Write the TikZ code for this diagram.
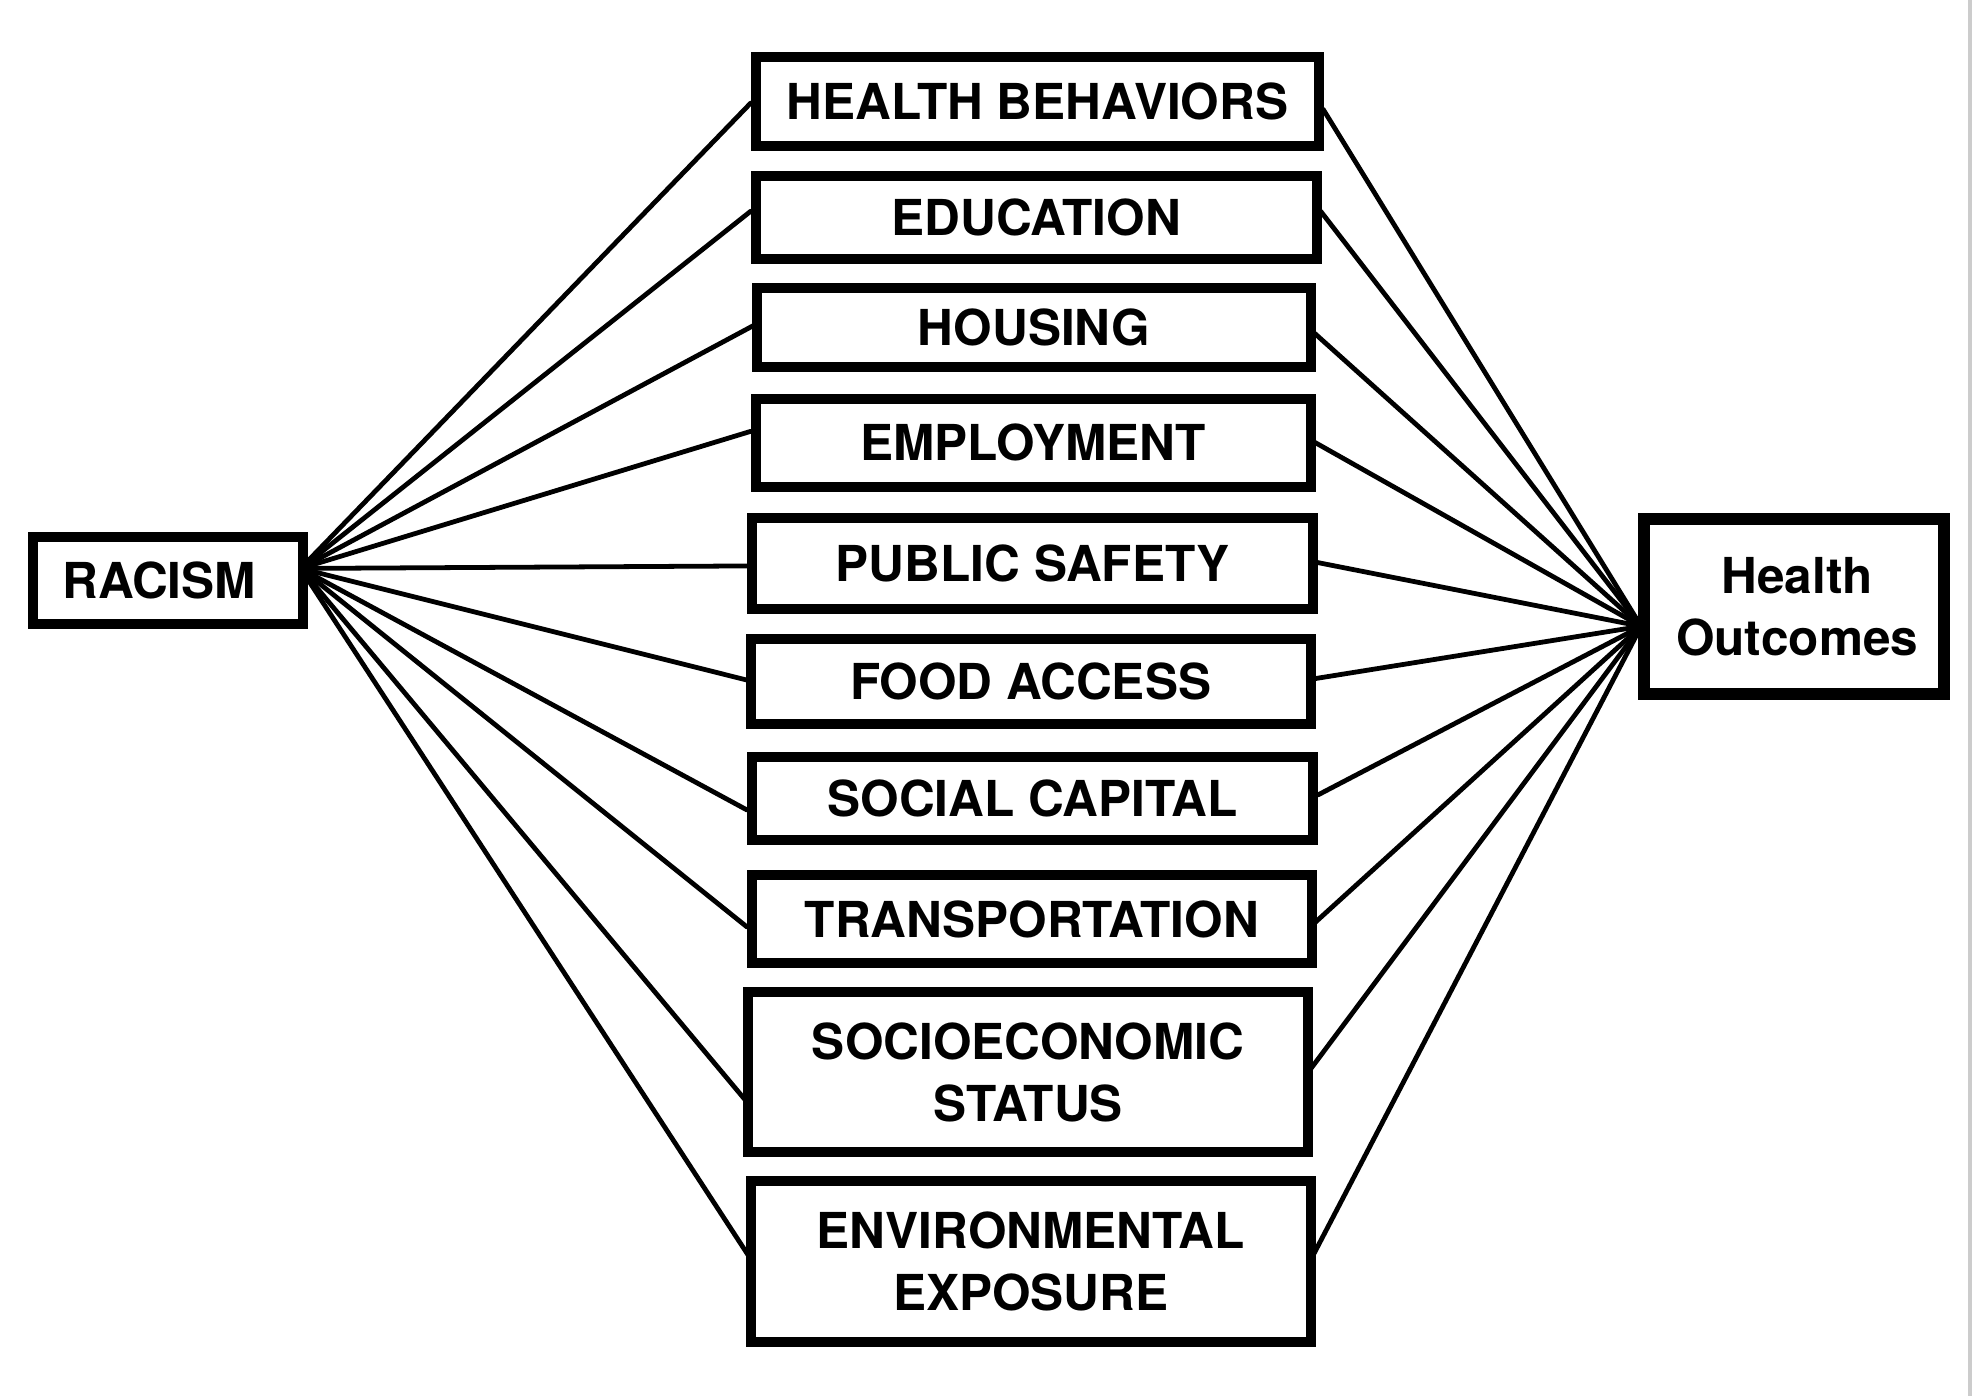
\documentclass[tikz,border=0pt]{standalone}
\usepackage{fontspec}
\setmainfont{TeX Gyre Heros}
\begin{document}
\begin{tikzpicture}[x=0.01cm,y=-0.01cm,
  factor/.style={draw=black,line width=0.08cm,inner sep=0pt,outer sep=0pt,
     align=center,font=\fontsize{11.2}{14}\selectfont\bfseries},
  endbox/.style={factor},
  link/.style={line width=0.038cm,line cap=round}]
\useasboundingbox[fill=white] (0,0) rectangle (1568,1110);
\fill[gray!40] (1564.8,0) rectangle (1568,1110);
% end boxes
\node[endbox,minimum width=2.15cm,minimum height=0.69cm] (rac) at (133.5,461.5) {RACISM\hspace*{0.14cm}};
\node[endbox,line width=0.095cm,minimum width=2.39cm,minimum height=1.39cm] (ho) at (1426.5,482.5) {\hspace*{0.05cm}Health\\\hspace*{0.05cm}Outcomes};
% middle factors
\node[factor,minimum width=4.48cm,minimum height=0.71cm] (hb)  at (825,80.5)   {HEALTH BEHAVIORS};
\node[factor,minimum width=4.46cm,minimum height=0.66cm] (edu) at (824,173)    {\raisebox{-0.03cm}{EDUCATION}};
\node[factor,minimum width=4.40cm,minimum height=0.63cm] (hou) at (822,260.5)  {\raisebox{-0.03cm}{HOUSING}};
\node[factor,minimum width=4.41cm,minimum height=0.70cm] (emp) at (821.5,352)  {EMPLOYMENT};
\node[factor,minimum width=4.46cm,minimum height=0.72cm] (ps)  at (821,448)    {PUBLIC SAFETY};
\node[factor,minimum width=4.45cm,minimum height=0.68cm] (fa)  at (819.5,542)  {FOOD ACCESS};
\node[factor,minimum width=4.46cm,minimum height=0.66cm] (sc)  at (821,635)    {SOCIAL CAPITAL};
\node[factor,minimum width=4.45cm,minimum height=0.70cm] (tr)  at (820.5,731)  {TRANSPORTATION};
\node[factor,minimum width=4.45cm,minimum height=1.27cm] (ses) at (817.5,852.5){SOCIOECONOMIC\\STATUS};
\node[factor,minimum width=4.45cm,minimum height=1.28cm] (env) at (819.5,1003) {ENVIRONMENTAL\\EXPOSURE};
% hubs
\coordinate (rhub) at ([shift={(-2,-9.5)}]rac.east);
\coordinate (hhub) at ([shift={(-2,15.5)}]ho.west);
% connectors from RACISM
\foreach \n/\dx/\dy in {hb/-4/1.5, edu/-4/-5, hou/-3/-1.5, emp/-4/-9, ps/-1/2,
                        fa/-2/-1, sc/-4/9, tr/-4/6, ses/-2/22.5, env/-2/-5}
  \draw[link] (rhub) -- ([shift={(\dx,\dy)}]\n.west);
% connectors to Health Outcomes
\foreach \n/\dx/\dy in {hb/3/6.5, edu/3/-5, hou/2/3.5, emp/2/-1, ps/2/-1,
                        fa/1/-2, sc/4/-3, tr/2/3, ses/2/-2.5, env/1/-3}
  \draw[link] ([shift={(\dx,\dy)}]\n.east) -- (hhub);
\end{tikzpicture}
\end{document}
